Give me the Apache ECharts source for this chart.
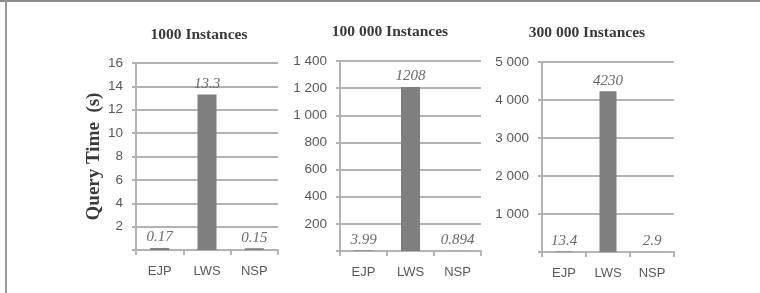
<!DOCTYPE html>
<html>
<head>
<meta charset="utf-8">
<script src="https://cdn.jsdelivr.net/npm/echarts@6/dist/echarts.min.js"></script>
<style>html,body{margin:0;padding:0;background:#fff}#c{width:760px;height:293px}</style>
</head>
<body>
<div id="c"></div>
<script>
const categories = ['EJP', 'LWS', 'NSP'];
const titles = ['1000 Instances', '100 000 Instances', '300 000 Instances'];
const values1 = [0.17, 13.3, 0.15];
const values2 = [3.99, 1208, 0.894];
const values3 = [13.4, 4230, 2.9];
const yMax = [16, 1400, 5000];
const yInterval = [2, 200, 1000];
const yAxisName = 'Query Time  (s)';

const allValues = [values1, values2, values3];
const grids = [
  {left: 136, top: 63, width: 142, height: 187},
  {left: 340, top: 61, width: 141, height: 190},
  {left: 542, top: 62, width: 132, height: 190}
];
const barWidths = [19, 19, 17];
const titlePos = [199, 390, 587];
const titleTop = [27, 24, 25];

const fmtNum = v => {
  if (v === 0) return '';
  return String(v).replace(/\B(?=(\d{3})+(?!\d))/g, ' ');
};

const gridLineColor = '#b3b3b3';
const textGray = '#595959';

const option = {
  animation: false,
  backgroundColor: '#fff',
  title: titles.map((t, i) => ({
    text: t, left: titlePos[i], top: titleTop[i], textAlign: 'center', padding: 0,
    textStyle: {fontFamily: 'Liberation Serif', fontWeight: 'bold', fontSize: 15.5, color: '#3a3a3a'}
  })),
  grid: grids.map(g => Object.assign({containLabel: false}, g)),
  xAxis: grids.map((g, i) => ({
    type: 'category', gridIndex: i, data: categories,
    axisLine: {lineStyle: {color: gridLineColor, width: 2}},
    axisTick: {show: true, length: 5, lineStyle: {color: gridLineColor, width: 2}},
    axisLabel: {fontFamily: 'Liberation Sans', fontSize: 13, color: textGray, margin: 15}
  })),
  yAxis: grids.map((g, i) => ({
    type: 'value', gridIndex: i, min: 0, max: yMax[i], interval: yInterval[i],
    name: i === 0 ? yAxisName : '',
    nameLocation: 'middle', nameGap: 31,
    nameTextStyle: {fontFamily: 'Liberation Serif', fontWeight: 'bold', fontSize: 19, color: '#3a3a3a'},
    axisLine: {show: true, lineStyle: {color: gridLineColor, width: 2}},
    axisTick: {show: true, length: 4, lineStyle: {color: gridLineColor, width: 2}},
    splitLine: {show: true, lineStyle: {color: gridLineColor, width: 2}},
    axisLabel: {fontFamily: 'Liberation Sans', fontSize: 13.5, color: textGray, margin: 13, formatter: fmtNum}
  })),
  series: allValues.map((vals, i) => ({
    type: 'bar', xAxisIndex: i, yAxisIndex: i, data: vals, barWidth: barWidths[i],
    itemStyle: {color: '#7f7f7f'},
    label: {
      show: true, position: 'top', distance: 3,
      fontFamily: 'Liberation Serif', fontStyle: 'italic', fontSize: 15, color: '#6a6a6a',
      formatter: p => String(p.value)
    }
  })),
  graphic: [
    {type: 'line', shape: {x1: 0, y1: 1, x2: 760, y2: 1}, style: {stroke: '#8c8c8c', lineWidth: 2}},
    {type: 'line', shape: {x1: 6, y1: 0, x2: 6, y2: 293}, style: {stroke: '#9a9a9a', lineWidth: 2}}
  ]
};
echarts.init(document.getElementById('c'), null, {renderer: 'canvas'}).setOption(option);
</script>
</body>
</html>
